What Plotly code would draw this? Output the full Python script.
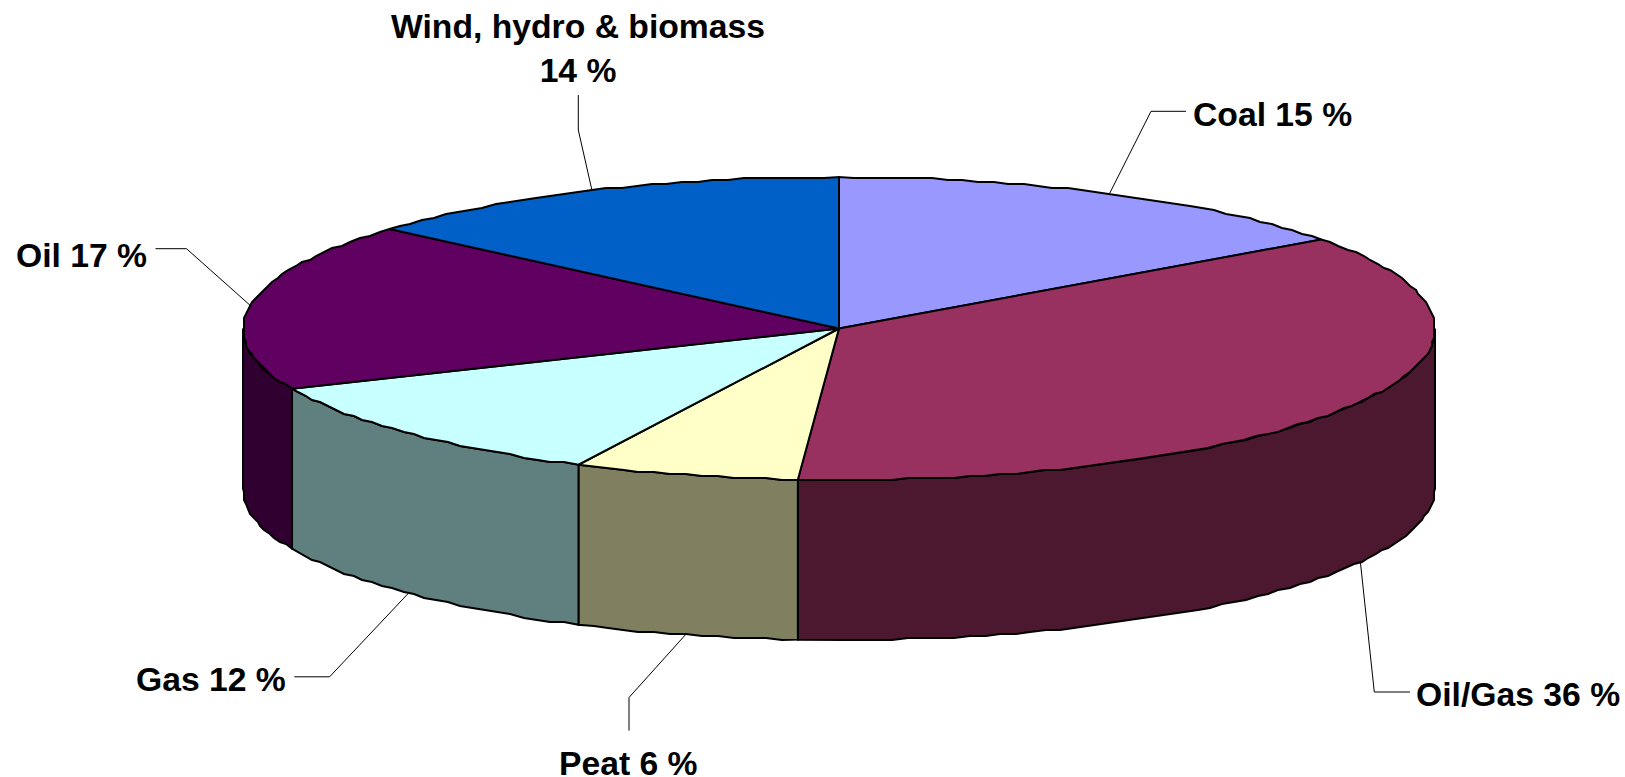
import math
import plotly.graph_objects as go

# ---- data ----
categories = ["Coal", "Oil/Gas", "Peat", "Gas", "Oil", "Wind, hydro & biomass"]
slice_shares = [15.0, 36.1, 6.1, 11.3, 17.9, 13.6]   # drawn share of the pie
label_percent = [15, 36, 6, 12, 17, 14]              # printed in the labels
top_colors = ["#9898FF", "#983060", "#FFFFC8", "#C8FFFF", "#600060", "#0060C8"]
side_colors = ["#4C4C80", "#4C1830", "#808060", "#608080", "#300030", "#003064"]

# ---- layout of the drawing (pixels of the 1625x777 page) ----
W, H = 1625, 777
CX, CY, RX, RY, DEPTH = 839.0, 328.5, 596.0, 151.5, 160.0
SNAP = 2.0       # the reference outline is slightly stair-stepped
STEP_DEG = 1.5
FONT = dict(family="Liberation Sans, Arial, sans-serif", size=33.7, color="#000000")
# elbow, leader end, text centre for each label
label_layout = [
    dict(elbow=(1151, 111.3), end=(1186, 111.3), text=(1272, 114)),
    dict(elbow=(1374.3, 692), end=(1410, 692), text=(1518, 694)),
    dict(elbow=(629, 697.5), end=(629, 730.6), text=(628, 763)),
    dict(elbow=(329.6, 676.8), end=(294.3, 676.8), text=(211, 679)),
    dict(elbow=(186.5, 248.7), end=(155.5, 248.7), text=(81, 255)),
    dict(elbow=(578.3, 130), end=(578.3, 95), text=(578, 48)),
]


def snap(v):
    return round(v / SNAP) * SNAP


def rim(theta, drop=0.0, snapped=True):
    """Point on the rim; theta in degrees clockwise from the top."""
    t = math.radians(theta)
    x, y = CX + RX * math.sin(t), CY - RY * math.cos(t)
    if snapped:
        x, y = snap(x), snap(y)
    return x, y + drop


def arc(a, b, drop=0.0):
    n = max(1, int(abs(b - a) / STEP_DEG))
    pts = [rim(a + (b - a) * i / n, drop, 0 < i < n) for i in range(n + 1)]
    return pts


fig = go.Figure()
total = sum(slice_shares)
edges = [0.0]
for v in slice_shares:
    edges.append(edges[-1] + v / total * 360.0)


def add_poly(pts, color):
    fig.add_trace(go.Scatter(
        x=[p[0] for p in pts], y=[p[1] for p in pts], mode="lines",
        fill="toself", fillcolor=color,
        line=dict(color="#000000", width=2, shape="linear"),
        hoverinfo="skip", showlegend=False))


# side walls (only the front half of the rim shows)
for i in range(len(slice_shares)):
    a, b = max(edges[i], 90.0), min(edges[i + 1], 270.0)
    if b > a:
        upper = arc(a, b)
        lower = arc(b, a, DEPTH)
        add_poly(upper + lower + [upper[0]], side_colors[i])

# top faces
for i in range(len(slice_shares)):
    pts = [(CX, CY)] + arc(edges[i], edges[i + 1]) + [(CX, CY)]
    add_poly(pts, top_colors[i])

# leaders and labels
annotations = []
for i, name in enumerate(categories):
    mid = (edges[i] + edges[i + 1]) / 2
    front = 90 < mid < 270
    sx, sy = rim(mid, DEPTH if front else 0.0, False)
    lay = label_layout[i]
    fig.add_trace(go.Scatter(
        x=[sx, lay["elbow"][0], lay["end"][0]],
        y=[sy, lay["elbow"][1], lay["end"][1]],
        mode="lines", line=dict(color="#000000", width=1),
        hoverinfo="skip", showlegend=False))
    sep = "<br>" if len(name) > 10 else " "
    annotations.append(dict(
        x=lay["text"][0], y=lay["text"][1], xref="x", yref="y",
        text=f"<b>{name}{sep}{label_percent[i]} %</b>",
        showarrow=False, xanchor="center", yanchor="middle", font=FONT))

fig.update_layout(
    width=W, height=H, margin=dict(l=0, r=0, t=0, b=0),
    paper_bgcolor="#FFFFFF", plot_bgcolor="#FFFFFF",
    xaxis=dict(range=[0, W], visible=False, fixedrange=True),
    yaxis=dict(range=[H, 0], visible=False, fixedrange=True),
    annotations=annotations, showlegend=False)

fig.write_html("out.html", config=dict(displayModeBar=False),
               post_script="document.body.style.margin='0';document.body.style.overflow='hidden';")
